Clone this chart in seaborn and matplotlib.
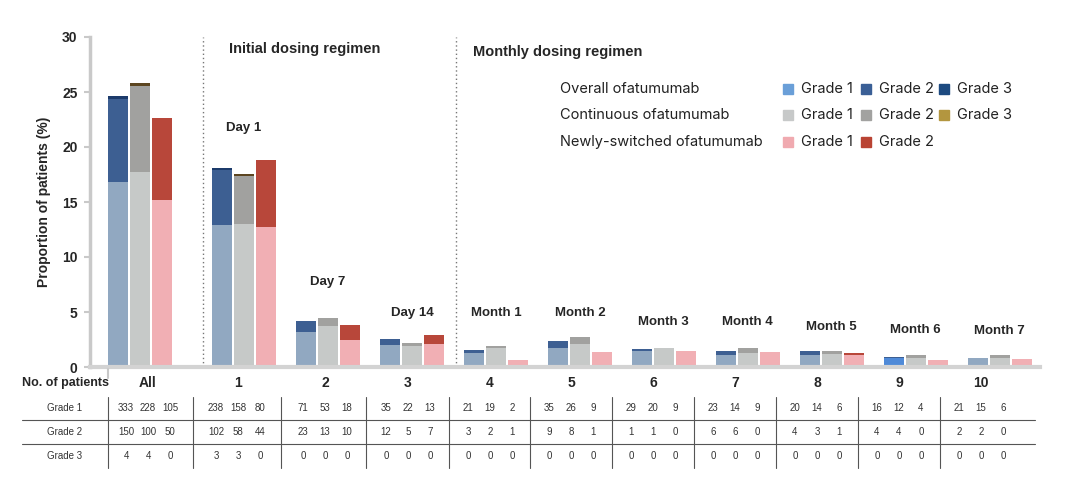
import numpy as np
import matplotlib
matplotlib.use("Agg")
import matplotlib.pyplot as plt
import seaborn as sns

sns.set_style("white")
plt.rcParams['font.family'] = ['Liberation Sans', 'DejaVu Sans']

# Data (proportion of patients, %)
group_labels = ['All', '1', '2', '3', '4', '5', '6', '7', '8', '9', '10']
period_labels = ['', 'Day 1', 'Day 7', 'Day 14', 'Month 1', 'Month 2', 'Month 3',
                 'Month 4', 'Month 5', 'Month 6', 'Month 7']

overall_g1 = [16.8, 12.9, 3.2, 2.0, 1.3, 1.7, 1.5, 1.05, 1.1, 0.8, 0.8]
overall_g2 = [7.6, 5.0, 0.95, 0.55, 0.25, 0.7, 0.15, 0.45, 0.4, 0.1, 0.0]
overall_g3 = [0.2, 0.2, 0, 0, 0, 0, 0, 0, 0, 0, 0]
cont_g1 = [17.7, 13.0, 3.75, 1.95, 1.7, 2.1, 1.75, 1.25, 1.15, 0.8, 0.8]
cont_g2 = [7.8, 4.35, 0.75, 0.25, 0.25, 0.6, 0.0, 0.45, 0.35, 0.25, 0.25]
cont_g3 = [0.3, 0.2, 0, 0, 0, 0, 0, 0, 0, 0, 0]
new_g1 = [15.2, 12.7, 2.5, 2.1, 0.6, 1.4, 1.5, 1.4, 1.1, 0.6, 0.75]
new_g2 = [7.4, 6.1, 1.35, 0.85, 0.0, 0.0, 0.0, 0.0, 0.2, 0.0, 0.0]
new_g3 = [0, 0, 0, 0, 0, 0, 0, 0, 0, 0, 0]

# Number of patients table (overall, continuous, newly-switched)
n_grade1 = [[333, 228, 105], [238, 158, 80], [71, 53, 18], [35, 22, 13], [21, 19, 2],
            [35, 26, 9], [29, 20, 9], [23, 14, 9], [20, 14, 6], [16, 12, 4], [21, 15, 6]]
n_grade2 = [[150, 100, 50], [102, 58, 44], [23, 13, 10], [12, 5, 7], [3, 2, 1],
            [9, 8, 1], [1, 1, 0], [6, 6, 0], [4, 3, 1], [4, 4, 0], [2, 2, 0]]
n_grade3 = [[4, 4, 0], [3, 3, 0], [0, 0, 0], [0, 0, 0], [0, 0, 0],
            [0, 0, 0], [0, 0, 0], [0, 0, 0], [0, 0, 0], [0, 0, 0], [0, 0, 0]]

# Layout
group_pos = np.array([0.0] + [1.24 + i for i in range(10)])
bar_off = 0.262
bar_w = 0.238
label_y = [None, 21.7, 7.7, 4.9, 4.9, 4.9, 4.1, 4.1, 3.6, 3.35, 3.25]

# Colours
overall_cols = ['#91a8c1', '#3d5f92', '#1c3b6b']
cont_cols = ['#c6c9c8', '#a1a19f', '#5c4520']
new_cols = ['#f1afb4', '#b8473a', '#b8473a']
overall_g1_palette = ['#91a8c1'] * 11
overall_g1_palette[9] = '#4f8ad8'

fig = plt.figure(figsize=(10.8, 4.9), dpi=100)
ax = fig.add_axes([90 / 1080, 123 / 490, 950 / 1080, 330 / 490])

cohorts = [
    (-bar_off, overall_g1, overall_g2, overall_g3, overall_cols),
    (0.0, cont_g1, cont_g2, cont_g3, cont_cols),
    (bar_off, new_g1, new_g2, new_g3, new_cols),
]

for off, g1, g2, g3, cols in cohorts:
    g1 = np.array(g1)
    cum2 = g1 + np.array(g2)
    cum3 = cum2 + np.array(g3)
    xs = group_pos + off
    sns.barplot(x=xs, y=cum3, native_scale=True, width=bar_w, color=cols[2],
                saturation=1, linewidth=0, errorbar=None, ax=ax)
    sns.barplot(x=xs, y=cum2, native_scale=True, width=bar_w, color=cols[1],
                saturation=1, linewidth=0, errorbar=None, ax=ax)
    if off < 0:
        sns.barplot(x=xs, y=g1, hue=group_labels, palette=overall_g1_palette,
                    native_scale=True, width=bar_w, dodge=False, saturation=1,
                    linewidth=0, errorbar=None, legend=False, ax=ax)
    else:
        sns.barplot(x=xs, y=g1, native_scale=True, width=bar_w, color=cols[0],
                    saturation=1, linewidth=0, errorbar=None, ax=ax)

# Regimen dividers
for xv in [0.75, 3.77]:
    ax.axvline(xv, color='#777777', linestyle=(0, (1, 2)), linewidth=1, zorder=0)

# Period labels above the bars
for i, lab in enumerate(period_labels):
    if lab:
        ax.text(group_pos[i], label_y[i], lab, ha='center', va='center',
                fontsize=9.5, fontweight='bold')

ax.set_xlim(-0.595, 10.72)
ax.set_ylim(0, 30)
ax.set_yticks(range(0, 31, 5))
ax.set_yticklabels([str(v) for v in range(0, 31, 5)], fontweight='bold', fontsize=10)
ax.set_xticks([])
ax.set_xlabel('')
ax.tick_params(axis='y', left=True, length=4, width=1.5, color='#c9c9c9', pad=5)
ax.set_ylabel('Proportion of patients (%)', fontweight='bold', fontsize=10)
ax.yaxis.set_label_coords(-0.041, 0.5)
sns.despine(ax=ax)
ax.spines['left'].set_color('#c9c9c9')
ax.spines['left'].set_linewidth(2.5)
ax.spines['bottom'].set_color('#d3d3d3')
ax.spines['bottom'].set_linewidth(3)

# Overlay for headers, legend and table (pixel coordinates)
tax = fig.add_axes([0, 0, 1, 1])
tax.set_xlim(0, 1080)
tax.set_ylim(490, 0)
tax.axis('off')
tax.patch.set_alpha(0)

tax.text(229, 49, 'Initial dosing regimen', fontsize=10.5, fontweight='bold', va='center')
tax.text(473, 52, 'Monthly dosing regimen', fontsize=10.5, fontweight='bold', va='center')

# Legend
legend_rows = [
    ('Overall ofatumumab', ['#6a9fd8', '#3a5f96', '#1d4a80']),
    ('Continuous ofatumumab', ['#c7c9c9', '#a2a2a0', '#b3963f']),
    ('Newly-switched ofatumumab', ['#f0aab0', '#b94333']),
]
legend_y = [89, 115, 142]
for (name, cols), yy in zip(legend_rows, legend_y):
    tax.text(560, yy, name, fontsize=10.5, va='center', family=['Inter', 'DejaVu Sans'],
             color='#222222')
    for k, c in enumerate(cols):
        px = 788 + 78 * k
        tax.plot(px, yy, marker='s', markersize=6.5, color=c, linestyle='none')
        tax.text(px + 13, yy, f'Grade {k + 1}', fontsize=10.5, va='center',
                 family=['Inter', 'DejaVu Sans'], color='#222222')

# Table
table_x = [148, 238, 325, 408, 490, 571, 653, 735, 817, 899, 981]
row_y = [408, 432, 456]
tax.text(22, 383, 'No. of patients', fontsize=9, fontweight='bold', va='center')
for cx, lab in zip(table_x, group_labels):
    tax.text(cx, 383, lab, fontsize=10, fontweight='bold', ha='center', va='center')
for r, (rows, yy) in enumerate(zip([n_grade1, n_grade2, n_grade3], row_y)):
    tax.text(65, yy, f'Grade {r + 1}', fontsize=7, ha='center', va='center', color='#333333')
    for cx, vals in zip(table_x, rows):
        for k, v in enumerate(vals):
            tax.text(cx + (k - 1) * 22, yy, str(v), fontsize=7, ha='center',
                     va='center', color='#333333')
for yy in [420, 444]:
    tax.plot([22, 1035], [yy, yy], color='#555555', linewidth=0.8)
for sx in [108, 193, 281, 366, 449, 530, 612, 694, 776, 858, 940]:
    tax.plot([sx, sx], [397, 468], color='#555555', linewidth=0.8)
tax.plot([108, 108], [369, 378], color='#c9c9c9', linewidth=1.5)

fig.savefig('out.png', dpi=100, facecolor='white')
